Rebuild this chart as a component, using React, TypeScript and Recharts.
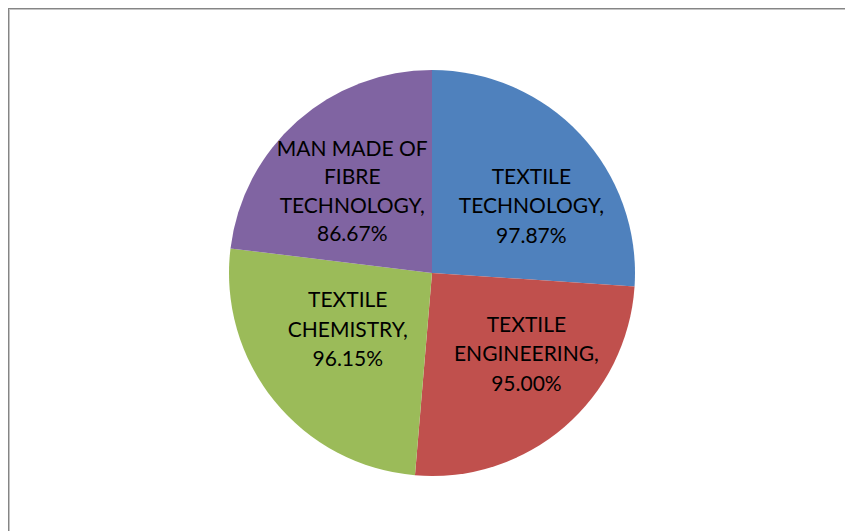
import React from "react";
import { PieChart, Pie, Cell } from "recharts";

const categories = [
  "TEXTILE TECHNOLOGY",
  "TEXTILE ENGINEERING",
  "TEXTILE CHEMISTRY",
  "MAN MADE OF FIBRE TECHNOLOGY",
];
const values = [97.87, 95.0, 96.15, 86.67];
const labelLines = [
  ["TEXTILE", "TECHNOLOGY,", "97.87%"],
  ["TEXTILE", "ENGINEERING,", "95.00%"],
  ["TEXTILE", "CHEMISTRY,", "96.15%"],
  ["MAN MADE OF", "FIBRE", "TECHNOLOGY,", "86.67%"],
];
const colors = ["#4F81BD", "#C0504D", "#9BBB59", "#8064A2"];
// small best-fit nudges for the inside labels (dx, dy)
const labelNudge = [
  [6, 1],
  [11, 3],
  [15, -9],
  [5, -7],
];

const data = categories.map((name, i) => ({ name, value: values[i] }));

const RAD = Math.PI / 180;
const FONT = "Lato, 'Open Sans', sans-serif";

const renderLabel = (props: any) => {
  const { cx, cy, midAngle, outerRadius, index } = props;
  const x = cx + Math.cos(-midAngle * RAD) * outerRadius * 0.63 + labelNudge[index][0];
  const y = cy + Math.sin(-midAngle * RAD) * outerRadius * 0.5 + labelNudge[index][1];
  const lines = labelLines[index];
  const pitch = lines.length > 3 ? 28.5 : 29.5;
  const start = y - ((lines.length - 1) * pitch) / 2;
  return (
    <text
      x={x}
      y={start}
      textAnchor="middle"
      fill="#000"
      fontFamily={FONT}
      fontSize={21}
      key={`l-${index}`}
    >
      {lines.map((ln, j) => (
        <tspan key={j} x={x} y={start + j * pitch} dominantBaseline="central">
          {ln}
        </tspan>
      ))}
    </text>
  );
};

export default function App() {
  return (
    <div
      style={{
        position: "fixed",
        left: 8,
        top: 8,
        width: 837,
        height: 523,
        background: "#fff",
        overflow: "hidden",
      }}
    >
      <PieChart width={837} height={523} margin={{ top: 0, right: 0, bottom: 0, left: 0 }}>
        <Pie
          data={data}
          dataKey="value"
          nameKey="name"
          cx={424}
          cy={265}
          outerRadius={203}
          startAngle={90}
          endAngle={-270}
          stroke="none"
          label={renderLabel}
          labelLine={false}
          isAnimationActive={false}
        >
          {data.map((d, i) => (
            <Cell key={d.name} fill={colors[i]} />
          ))}
        </Pie>
      </PieChart>
      <div
        style={{
          position: "absolute",
          left: 0,
          top: 0,
          width: 900,
          height: 600,
          borderTop: "1px solid #858585",
          borderLeft: "1px solid #858585",
          boxShadow: "inset 1px 1px 0 #c4c4c4",
          boxSizing: "border-box",
          pointerEvents: "none",
        }}
      />
    </div>
  );
}
